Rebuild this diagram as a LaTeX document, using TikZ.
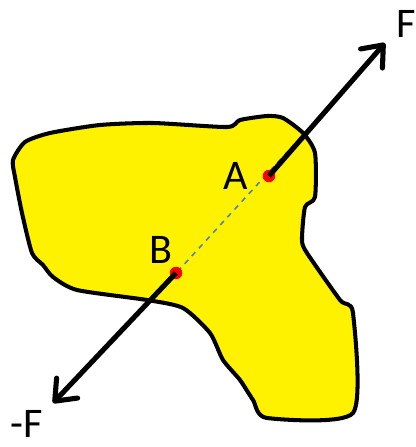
\documentclass[tikz,border=0pt]{standalone}
\usepackage{fontspec}
\setmainfont{Carlito}
\usetikzlibrary{arrows.meta}
\definecolor{axisblue}{RGB}{79,129,189}
\begin{document}
\begin{tikzpicture}[x=0.02cm,y=-0.02cm,
  force/.style={line width=2.9pt,-{Straight Barb[length=3.6mm,width=5.8mm,line width=2.9pt,round]}},
  pt/.style={circle,fill=red,inner sep=0pt,minimum size=2.5mm},
  lbl/.style={font=\fontsize{24}{28}\selectfont,inner sep=1pt}]
\useasboundingbox (0,0) rectangle (416,447);
\draw[line width=2.3pt,fill=yellow,line join=round] plot[smooth cycle,tension=0.4] coordinates {
  (25,142) (13,160) (15,177) (22,213) (32,253) (43,265) (53,277) (77,290)
  (147,300) (183,308) (210,333) (223,360) (240,380) (253,400) (267,418)
  (353,413) (353,313) (340,300) (307,253) (302,240) (305,207) (315,197)
  (315,153) (303,133) (283,118) (267,116) (240,120) (227,127) (153,123)
  (100,125) (50,133)};
\coordinate (Fend) at (385,43);
\coordinate (mFend) at (53,403);
\coordinate (d1) at (345,89);
\coordinate (d2) at (112,343);
\draw[axisblue,dashed,line width=0.9pt] (d1) -- (d2);
\node[pt] (A) at (269,176) {};
\node[pt] (B) at (176,273) {};
\draw[force] (A.center) -- (Fend);
\draw[force] (B.center) -- (mFend);
\node[lbl] (la) at (236,176) {A};
\node[lbl] (lb) at (161,250) {B};
\node[lbl] (lf) at (406,24) {F};
\node[lbl] (lmf) at (27,424) {-F};
\end{tikzpicture}
\end{document}
